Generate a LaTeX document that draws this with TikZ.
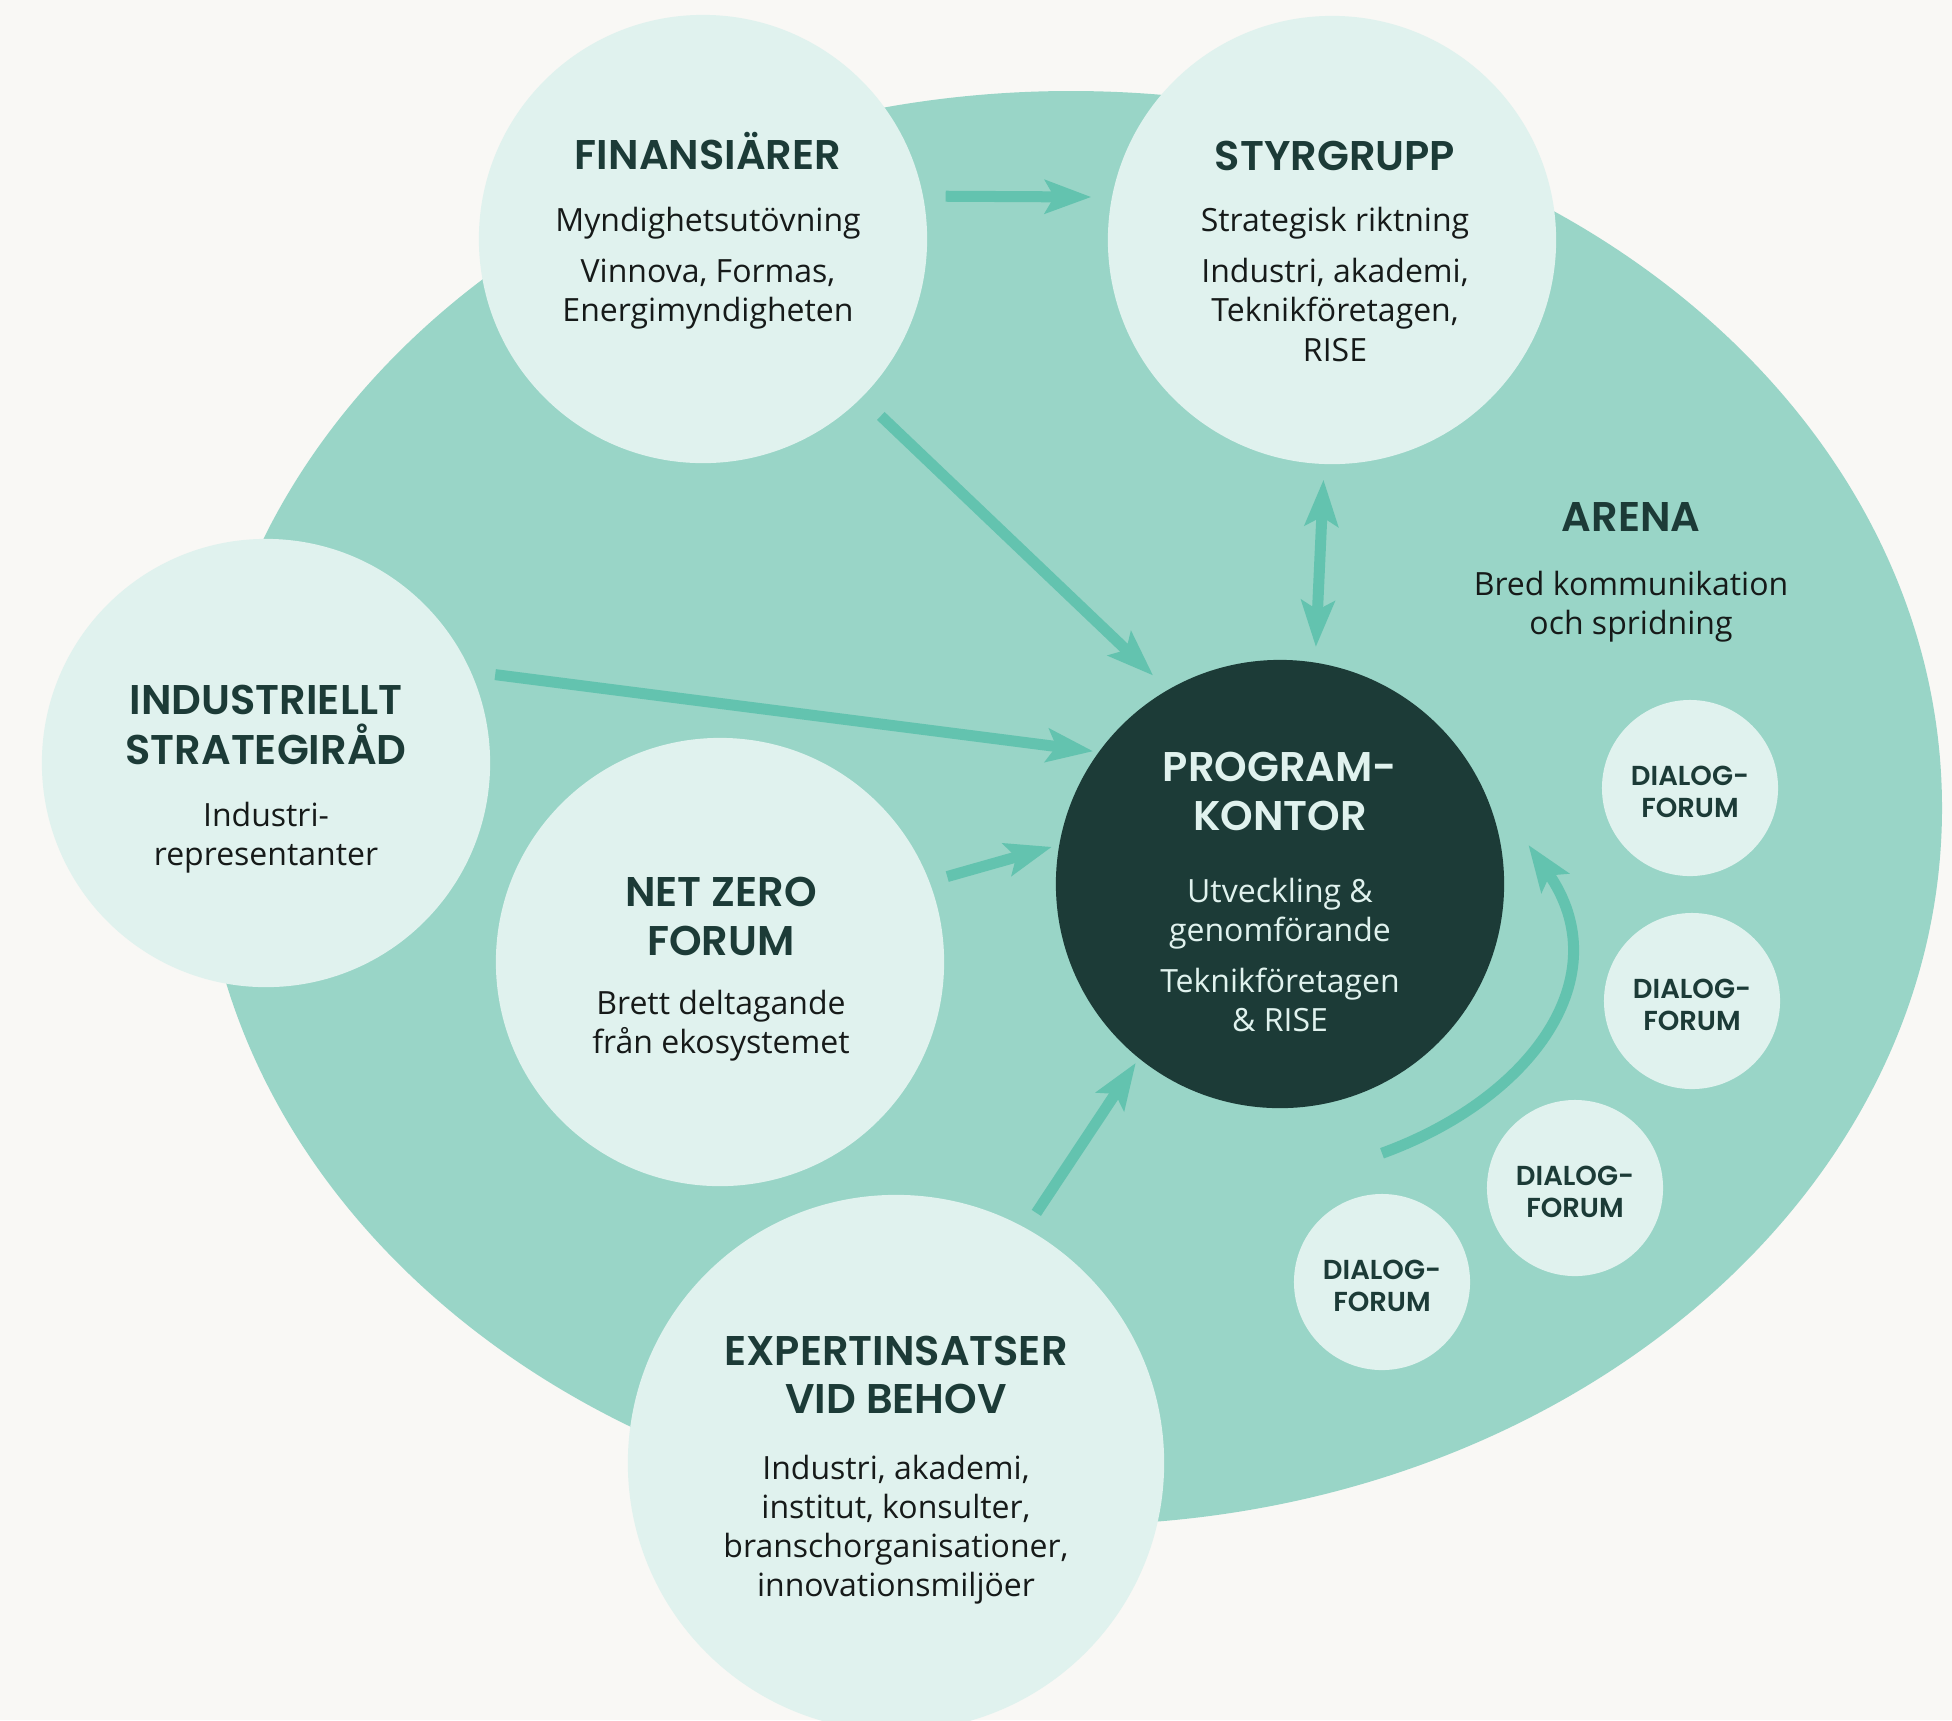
\documentclass[tikz,border=0pt]{standalone}
\usepackage{fontspec}
\setmainfont{Open Sans}
\newfontfamily\headfont{Poppins}[BoldFont={Poppins SemiBold}]
\usetikzlibrary{arrows.meta, positioning, calc}

\definecolor{paper}{HTML}{F9F8F5}
\definecolor{arena}{HTML}{99D5C7}
\definecolor{mint}{HTML}{E0F2EE}
\definecolor{pine}{HTML}{1C3B37}
\definecolor{flowgreen}{HTML}{63C3AF}
\definecolor{ink}{HTML}{161A19}

\newcommand{\head}[2][pine]{{\headfont\bfseries\fontsize{11.8}{14}\selectfont\color{#1}#2}}
\newcommand{\forumname}{\rule{0pt}{7.9pt}DIALOG-\\FORUM}

\begin{document}
\begin{tikzpicture}[
        x=0.01cm, y=-0.01cm,
        bubble/.style={circle, fill=mint, inner sep=0pt, minimum size=4.48cm},
        blurb/.style={align=center, inner sep=0pt, font=\fontsize{9.1}{11.1}\selectfont, text=ink},
        dialog/.style={circle, fill=mint, inner sep=0pt, minimum size=1.76cm,
            align=center, font=\headfont\bfseries\fontsize{7.8}{9.1}\selectfont, text=pine},
        feed/.style={line width=0.11cm, draw=flowgreen,
            -{Stealth[length=0.46cm, width=0.33cm, inset=0.09cm]}},
        feedboth/.style={line width=0.11cm, draw=flowgreen,
            {Stealth[length=0.46cm, width=0.33cm, inset=0.09cm]}-{Stealth[length=0.46cm, width=0.33cm, inset=0.09cm]}}
    ]
    % page and arena
    \useasboundingbox (0,0) rectangle (1952,1720);
    \fill[paper] (0,0) rectangle (1952,1720);
    \fill[arena] (1071,808) ellipse [x radius=871, y radius=717];

    \node[blurb] (arena text) at (1631,572)
        {\head{ARENA}\\[7.1pt] Bred kommunikation\\ och spridning};

    % the big circles
    \node[bubble] (fin) at (703,239) {};
    \node[bubble] (sty) at (1332,240) {};
    \node[bubble] (ind) at (266,763) {};
    \node[bubble] (net) at (720,962) {};
    \node[bubble, minimum size=5.36cm] (exp) at (896,1463) {};
    \node[bubble, fill=pine] (prog) at (1280,884) {};

    % their texts
    \node[blurb] (fin text) at (708,231)
        {\head{FINANSIÄRER}\\[6.5pt] Myndighetsutövning\\[3.4pt] Vinnova, Formas,\\ Energimyndigheten};
    \node[blurb] (sty text) at (1335,251)
        {\head{STYRGRUPP}\\[6.5pt] Strategisk riktning\\[3.4pt] Industri, akademi,\\ Teknikföretagen,\\ RISE};
    \node[blurb] (ind text) at (266,779)
        {\head{INDUSTRIELLT}\\[1.8pt] \head{STRATEGIRÅD}\\[6.4pt] Industri-\\ representanter};
    \node[blurb] (net text) at (721,969)
        {\head{NET ZERO}\\[2.8pt] \head{FORUM}\\[5.8pt] Brett deltagande\\ från ekosystemet};
    \node[blurb] (exp text) at (896,1470)
        {\head{EXPERTINSATSER}\\[2.8pt] \head{VID BEHOV}\\[7.6pt] Industri, akademi,\\ institut, konsulter,\\ branschorganisationer,\\ innovationsmiljöer};
    \node[blurb, text=mint] (prog text) at (1280,892)
        {\head[mint]{PROGRAM-}\\[2.8pt] \head[mint]{KONTOR}\\[9.6pt] Utveckling \&\\ genomförande\\[3.4pt] Teknikföretagen\\ \& RISE};

    % dialog forums
    \node[dialog] (dlg1) at (1690,788) {\forumname};
    \node[dialog] (dlg2) at (1692,1001) {\forumname};
    \node[dialog] (dlg3) at (1575,1188) {\forumname};
    \node[dialog] (dlg4) at (1382,1282) {\forumname};

    % arrows
    \draw[feed, shorten <=0.22cm, shorten >=0.2cm] (fin.11) -- (sty.169);
    \draw[feed, shorten <=0.26cm, shorten >=0.2cm] (fin.-45) -- (prog.120);
    \draw[feed, shorten <=0.24cm, shorten >=0.05cm] (ind.24) -- (prog.144);
    \draw[feed, shorten <=0.18cm, shorten >=0.07cm] (net.21) -- (prog.170);
    \draw[feed, shorten <=0.18cm, shorten >=0.05cm] (exp.61) -- (prog.-129);
    \draw[feedboth, shorten <=0.15cm, shorten >=0.15cm] (sty.-92) -- (prog.81);
    \draw[feed] ([yshift=0.4cm]dlg4.north) to[out=20, in=-55, looseness=1.2] ([xshift=0.27cm]prog.10);
\end{tikzpicture}
\end{document}
